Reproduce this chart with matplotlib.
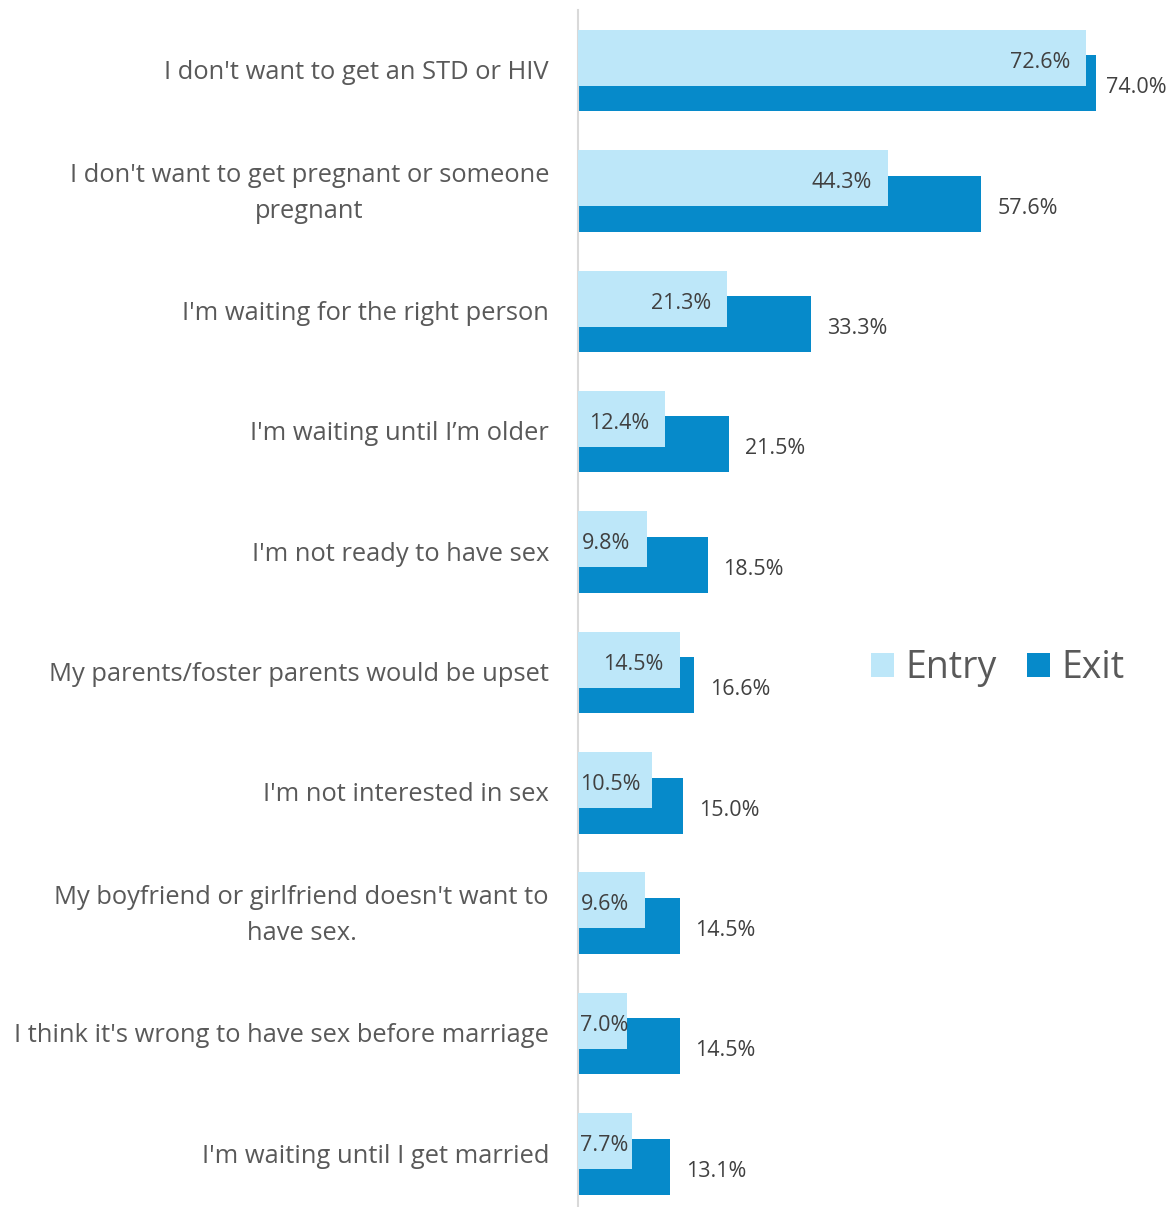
import matplotlib
matplotlib.use("Agg")
import matplotlib.pyplot as plt
from matplotlib.transforms import offset_copy

categories = [
    "I don't want to get an STD or HIV",
    "I don't want to get pregnant or someone\npregnant",
    "I'm waiting for the right person",
    "I'm waiting until I\u2019m older",
    "I'm not ready to have sex",
    "My parents/foster parents would be upset",
    "I'm not interested in sex",
    "My boyfriend or girlfriend doesn't want to\nhave sex.",
    "I think it's wrong to have sex before marriage",
    "I'm waiting until I get married",
]
entry = [72.6, 44.3, 21.3, 12.4, 9.8, 14.5, 10.5, 9.6, 7.0, 7.7]
exit_ = [74.0, 57.6, 33.3, 21.5, 18.5, 16.6, 15.0, 14.5, 14.5, 13.1]
series_names = ["Entry", "Exit"]

ENTRY_C = "#BDE7F9"
EXIT_C = "#068ACA"
LABEL_C = "#595959"
DATA_C = "#404040"
FONT = ["Open Sans", "DejaVu Sans"]

W, H = 1172, 1207
fig = plt.figure(figsize=(W / 100, H / 100), dpi=100)
ax_left, ax_right, ax_top, ax_bot = 578, 1172, 10, 1207
ax = fig.add_axes([ax_left / W, 1 - ax_bot / H, (ax_right - ax_left) / W, (ax_bot - ax_top) / H])

px_per_pct = 7.0
row_px = 120.4
ax.set_xlim(0, (ax_right - ax_left) / px_per_pct)
top_lim = -(70.5 - ax_top) / row_px
bot_lim = (len(categories) - 1) + (ax_bot - 1154) / row_px
ax.set_ylim(bot_lim, top_lim)

bar_h = 56 / row_px
off = 12.75 / row_px
ys = list(range(len(categories)))
ax.barh([y + off for y in ys], exit_, height=bar_h, color=EXIT_C, zorder=2, label=series_names[1])
ax.barh([y - off for y in ys], entry, height=bar_h, color=ENTRY_C, zorder=3, label=series_names[0])

for s in ["top", "right", "bottom"]:
    ax.spines[s].set_visible(False)
ax.spines["left"].set_color("#D9D9D9")
ax.spines["left"].set_linewidth(1.5)
ax.set_xticks([])
ax.set_yticks([])

# category labels
for y, lab in zip(ys, categories):
    dy = 6 if "\n" in lab else 1
    ax.text(0, y, lab, ha="right", va="center_baseline", fontsize=18.4, color=LABEL_C,
            family=FONT, multialignment="center", linespacing=1.56, clip_on=False,
            transform=offset_copy(ax.transData, fig=fig, x=-29, y=dy, units="dots"))

DY = -4.5
fig.canvas.draw()
renderer = fig.canvas.get_renderer()
entry_texts = []
for y, v in zip(ys, entry):
    t = ax.text(v, y - off, f"{v:.1f}%", ha="right", va="center", fontsize=15.5,
                color=DATA_C, family=FONT, zorder=5,
                transform=offset_copy(ax.transData, fig=fig, x=-16, y=DY, units="dots"))
    entry_texts.append(t)
exit_texts = []
for y, v in zip(ys, exit_):
    t = ax.text(v, y + off, f"{v:.1f}%", ha="left", va="center", fontsize=15.5,
                color=DATA_C, family=FONT, zorder=5, clip_on=False,
                transform=offset_copy(ax.transData, fig=fig, x=16, y=DY, units="dots"))
    exit_texts.append(t)

fig.canvas.draw()
x0_px = ax.transData.transform((0, 0))[0]
for t in entry_texts:
    bb = t.get_window_extent(renderer)
    if bb.x0 < x0_px + 2:
        t.set_x(0)
        t.set_ha("left")
        t.set_transform(offset_copy(ax.transData, fig=fig, x=2, y=DY, units="dots"))
for t in exit_texts:
    bb = t.get_window_extent(renderer)
    if bb.x1 > W - 4:
        t.set_transform(offset_copy(ax.transData, fig=fig, x=10, y=DY, units="dots"))

handles, labels = ax.get_legend_handles_labels()
handles = handles[::-1]
labels = labels[::-1]
fig.legend(handles, labels, loc="center", bbox_to_anchor=((872 + 1123) / 2 / W, 1 - 668 / H),
           ncol=2, frameon=False, labelcolor=LABEL_C,
           prop={"family": FONT, "size": 27},
           handlelength=0.62, handleheight=0.62, handletextpad=0.3, columnspacing=0.8,
           borderpad=0, borderaxespad=0)

fig.savefig("out.png", dpi=100)
